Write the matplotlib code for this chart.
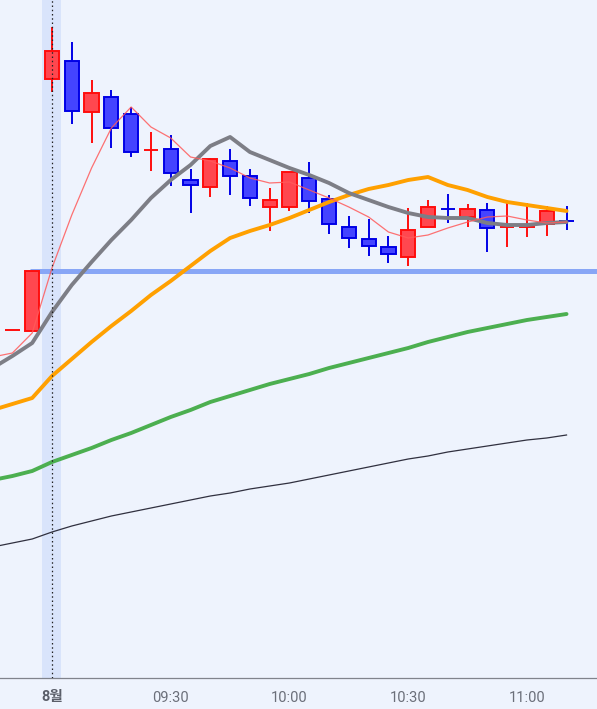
import matplotlib
matplotlib.use("Agg")
import matplotlib.pyplot as plt
from matplotlib.patches import Rectangle

# ---- data (price units) ----
opens  = [670,669,921,939,888,903,886,850,851,820,813,839,824,793,793,822,801,773,761,753,743,773,791,783,790,773,773,776,779]
closes = [670,729,949,889,907,872,848,850,827,815,841,824,802,800,828,799,776,762,754,746,770,793,791,791,772,773,775,789,779]
highs  = [670,729,973,958,920,910,893,868,865,831,842,851,831,812,828,838,805,784,781,764,792,800,806,796,797,799,797,794,794]
lows   = [670,669,908,876,857,852,843,829,814,787,803,805,794,769,789,787,766,752,744,737,734,773,777,773,748,753,763,764,770]
direction = ['up','up','up','down','up','down','down','up','down','down','up','down','down','up','up','down',
             'down','down','down','down','up','up','down','up','down','up','up','up','down']

# moving averages, index -1 .. 28
ma_x = list(range(-1, 29))
ma_red    = [643,647,667,732,785,832,872,893,873,862,843,839,832,822,817,818,810,802,793,783,768,762,765,772,778,783,784,780,777,778]
ma_gray   = [632,644,657,688,715,738,760,780,802,820,835,854,863,848,840,832,825,817,807,800,793,787,783,782,782,777,775,775,777,778]
ma_orange = [590,596,602,624,641,658,674,689,705,719,734,749,762,769,775,782,790,798,805,811,815,820,823,815,810,803,798,795,792,789]
ma_green  = [520,524,529,538,545,552,560,567,575,583,590,598,604,610,616,621,626,632,637,642,647,652,658,663,668,672,676,680,683,686]
ma_black  = [453,457,461,468,474,479,484,488,492,496,500,504,507,511,514,517,521,525,529,533,537,541,544,548,551,554,557,560,562,565]

ref_price = 729
session_start = 2
tick_pos = [2, 8, 14, 20, 26]
tick_labels = ['8월', '09:30', '10:00', '10:30', '11:00']

# ---- figure ----
W, H = 597, 709
fig = plt.figure(figsize=(W/100, H/100), dpi=100)
bg = '#eef3fd'
fig.patch.set_facecolor(bg)
ax = fig.add_axes([0, 31/H, 1, 1 - 31/H])
ax.set_facecolor(bg)

x_left = -0.627
x_right = 29.54
ax.set_xlim(x_left, x_right)
ax.set_ylim(322, 1000)

# session band + dotted line
ax.axvspan(session_start - 0.48, session_start + 0.48, color='#d9e4fb', zorder=0, lw=0)

# reference line
ax.hlines(ref_price, 0.88, x_right, colors='#88a6f6', lw=3.6, zorder=2)

# candles
bw = 0.72
up_edge, up_fill = '#ff0d0d', '#ff474f'
dn_edge, dn_fill = '#0000e6', '#4444ff'
for i, (o, h, l, c, d) in enumerate(zip(opens, highs, lows, closes, direction)):
    ec, fc = (up_edge, up_fill) if d == 'up' else (dn_edge, dn_fill)
    ax.vlines(i, l, h, colors=ec, lw=1.4, zorder=3)
    lo, hi = min(o, c), max(o, c)
    if hi - lo < 0.5:
        ax.hlines(lo, i - bw/2, i + bw/2, colors=ec, lw=1.4, zorder=4)
    else:
        ax.add_patch(Rectangle((i - bw/2, lo), bw, hi - lo, facecolor=fc,
                               edgecolor=ec, lw=1.4, zorder=4))

# moving average lines
ax.plot(ma_x, ma_black, color='#30303f', lw=0.9, zorder=5)
ax.plot(ma_x, ma_green, color='#4caf50', lw=2.8, zorder=5, solid_capstyle='round')
ax.plot(ma_x, ma_orange, color='#ffa000', lw=2.8, zorder=5, solid_capstyle='round')
ax.plot(ma_x, ma_gray, color='#7d7e86', lw=2.8, zorder=5, solid_capstyle='round')
ax.plot(ma_x, ma_red, color='#ff5a5a', lw=0.9, alpha=0.85, zorder=6)

ax.axvline(session_start, color='#222222', lw=0.9, ls=(0, (1.2, 2.2)), zorder=7)

# axes styling
for s in ['top', 'right', 'left']:
    ax.spines[s].set_visible(False)
ax.spines['bottom'].set_color('#80838c')
ax.spines['bottom'].set_linewidth(0.9)
ax.set_yticks([])
ax.set_xticks(tick_pos)
ax.set_xticklabels(tick_labels)
ax.tick_params(axis='x', length=0, pad=9)
for k, lab in enumerate(ax.get_xticklabels()):
    lab.set_fontfamily(['Roboto', 'Noto Sans CJK KR'])
    lab.set_fontsize(10.5)
    if k == 0:
        lab.set_fontweight('bold')
        lab.set_color('#5a5e69')
    else:
        lab.set_color('#6b6f7a')

fig.savefig('out.png', dpi=100, facecolor=bg)
